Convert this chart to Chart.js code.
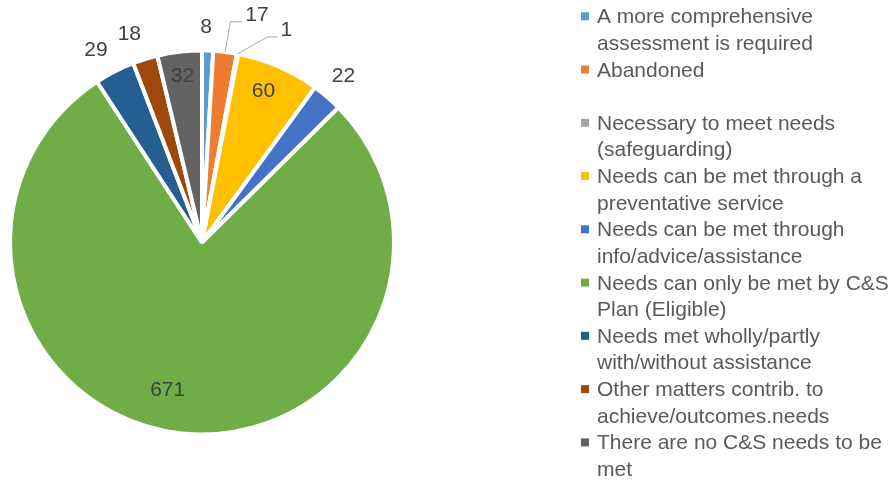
<!DOCTYPE html>
<html lang="en">
<head>
    <meta charset="UTF-8">
    <title>Outcomes</title>
    <script src="https://cdn.jsdelivr.net/npm/chart.js"></script>
    <style>
        body {
            margin: 0;
            background: #fff;
        }
        .chart-container {
            width: 896px;
            height: 480px;
            position: relative;
        }
    </style>
</head>
<body>
    <div class="chart-container">
        <canvas id="pieChart"></canvas>
    </div>

    <script>
        // legend labels, already wrapped like the original
        const categories = [
            ['A more comprehensive', 'assessment is required'],
            ['Abandoned', ''],
            ['Necessary to meet needs', '(safeguarding)'],
            ['Needs can be met through a', 'preventative service'],
            ['Needs can be met through', 'info/advice/assistance'],
            ['Needs can only be met by C&S', 'Plan (Eligible)'],
            ['Needs met wholly/partly', 'with/without assistance'],
            ['Other matters contrib. to', 'achieve/outcomes.needs'],
            ['There are no C&S needs to be', 'met']
        ];
        const counts = [8, 17, 1, 60, 22, 671, 29, 18, 32];
        const colors = ['#5B9BD5', '#ED7D31', '#A5A5A5', '#FFC000', '#4472C4',
                        '#70AD47', '#255E91', '#9E480E', '#636363'];

        // where each value label sits: radius factor + angle nudge (deg)
        const labelLayout = [
            { f: 1.124, shift: -0.6 },
            { leader: { f: 1.159, shift: 0.4, len: 12 } },
            { leader: { f: 1.124, shift: 7.0, len: 10 } },
            { f: 0.852, shift: -1.4 },
            { f: 1.136, shift: -0.25 },
            { f: 0.79, shift: 7 },
            { f: 1.145, shift: -1.8 },
            { f: 1.151, shift: -2 },
            { f: 0.872, shift: 0 }
        ];

        const FONT = '21px "Liberation Sans", Arial, sans-serif';

        const valueLabels = {
            id: 'valueLabels',
            afterDatasetsDraw(chart) {
                const ctx = chart.ctx;
                const meta = chart.getDatasetMeta(0);
                ctx.save();
                ctx.font = FONT;
                ctx.fillStyle = '#404040';
                ctx.textBaseline = 'middle';
                meta.data.forEach((arc, i) => {
                    const p = arc.getProps(['x', 'y', 'startAngle', 'endAngle', 'outerRadius'], true);
                    const mid = (p.startAngle + p.endAngle) / 2;
                    const lay = labelLayout[i];
                    const text = String(counts[i]);
                    if (lay.leader) {
                        const a = mid + lay.leader.shift * Math.PI / 180;
                        const r = p.outerRadius * lay.leader.f;
                        const sx = p.x + Math.cos(mid) * p.outerRadius;
                        const sy = p.y + Math.sin(mid) * p.outerRadius;
                        const ex = p.x + Math.cos(a) * r;
                        const ey = p.y + Math.sin(a) * r;
                        ctx.strokeStyle = '#A6A6A6';
                        ctx.lineWidth = 1;
                        ctx.beginPath();
                        ctx.moveTo(sx, sy);
                        ctx.lineTo(ex, ey);
                        ctx.lineTo(ex + lay.leader.len, ey);
                        ctx.stroke();
                        ctx.textAlign = 'left';
                        ctx.fillText(text, ex + lay.leader.len + 3, ey - 6.5);
                    } else {
                        const a = mid + lay.shift * Math.PI / 180;
                        const r = p.outerRadius * lay.f;
                        ctx.textAlign = 'center';
                        ctx.fillText(text, p.x + Math.cos(a) * r, p.y + Math.sin(a) * r);
                    }
                });
                ctx.restore();
            }
        };

        const sideLegend = {
            id: 'sideLegend',
            afterDraw(chart) {
                const ctx = chart.ctx;
                const lineH = 26.63;
                let baseline = 23.3;
                ctx.save();
                ctx.font = FONT;
                ctx.textAlign = 'left';
                ctx.textBaseline = 'alphabetic';
                categories.forEach((lines, i) => {
                    ctx.fillStyle = colors[i];
                    ctx.fillRect(581, baseline - 11, 8, 8);
                    ctx.fillStyle = '#595959';
                    lines.forEach(line => {
                        ctx.fillText(line, 597, baseline);
                        baseline += lineH;
                    });
                });
                ctx.restore();
            }
        };

        new Chart(document.getElementById('pieChart'), {
            type: 'pie',
            data: {
                labels: categories.map(c => c.join(' ').trim()),
                datasets: [{
                    data: counts,
                    backgroundColor: colors,
                    borderColor: '#ffffff',
                    borderWidth: 4,
                    hoverOffset: 0
                }]
            },
            options: {
                responsive: true,
                maintainAspectRatio: false,
                animation: false,
                radius: 192,
                layout: {
                    padding: { left: 12, top: 52.5, right: 504, bottom: 47.5 }
                },
                plugins: {
                    legend: { display: false },
                    tooltip: { enabled: false }
                }
            },
            plugins: [valueLabels, sideLegend]
        });
    </script>
</body>
</html>
